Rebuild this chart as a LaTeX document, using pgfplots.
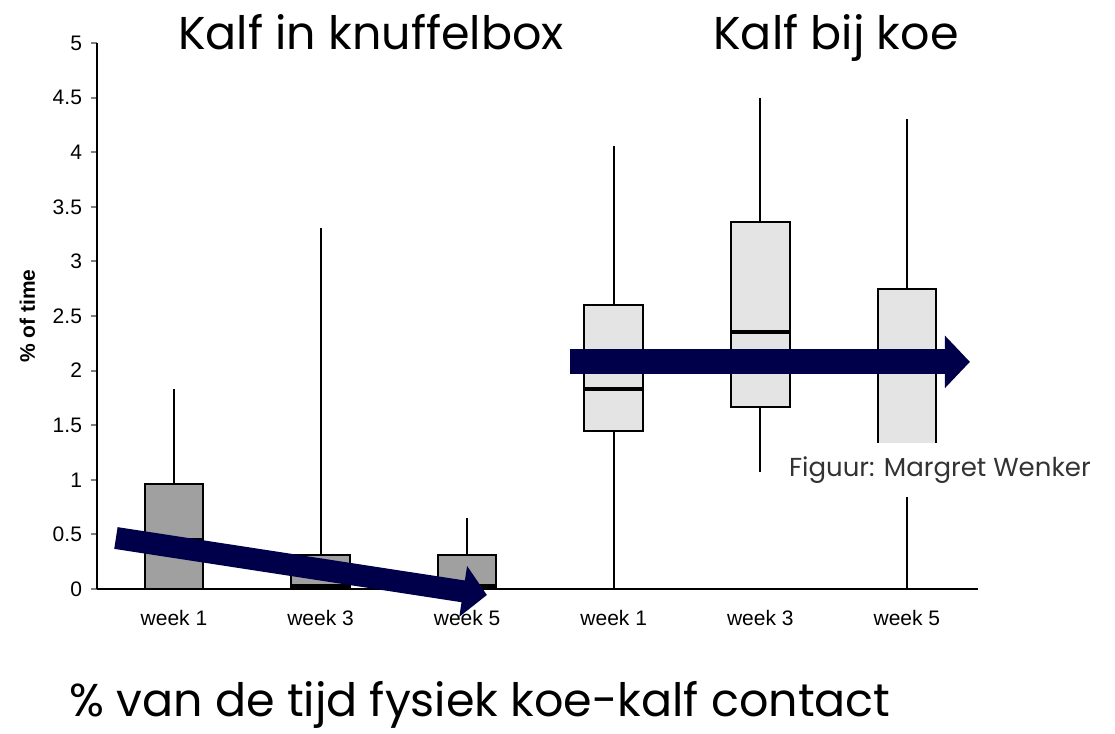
\documentclass[border=0pt]{standalone}
\usepackage{pgfplots}
\pgfplotsset{compat=1.18}
\usepgfplotslibrary{statistics}
\usetikzlibrary{arrows.meta}
\usepackage{fontspec}
\setmainfont{Liberation Sans}
\newfontfamily\gothic{Poppins}
\definecolor{darkbox}{HTML}{A0A0A0}
\definecolor{lightbox}{HTML}{E4E4E4}
\definecolor{navy}{HTML}{00004A}
\begin{document}
\begin{tikzpicture}
\useasboundingbox (-48.5pt,-72.5pt) rectangle (509pt,294.5pt);
\begin{axis}[
  scale only axis,
  width=440.5pt, height=273pt,
  xmin=-0.525, xmax=5.485,
  ymin=0, ymax=5,
  axis x line*=bottom, axis y line*=left,
  axis line style={line width=1pt},
  ytick={0,0.5,...,5},
  yticklabels={0,0.5,1,1.5,2,2.5,3,3.5,4,4.5,5},
  xtick={0,1,2,3,4,5},
  xticklabels={week 1,week 3,week 5,week 1,week 3,week 5},
  major tick length=3pt,
  ytick style={line width=1pt},
  xtick style={draw=none},
  tick align=outside,
  /pgf/number format/assume math mode=true,
  yticklabel style={font=\fontsize{10.5}{12}\selectfont, xshift=-1pt},
  xticklabel style={font=\fontsize{10.5}{12}\selectfont, yshift=-4pt},
  ylabel={\textbf{\% of time}},
  ylabel style={font=\fontsize{10.5}{12}\selectfont, yshift=2pt},
  clip=false,
  boxplot/draw direction=y,
  boxplot/box extend=0.4,
  boxplot/whisker extend=0,
  boxplot/every median/.style={line width=2pt},
]
\addplot[boxplot prepared={lower whisker=0, lower quartile=0, median=0.45, upper quartile=0.96, upper whisker=1.83, draw position=0}, draw=black, line width=1pt, fill=darkbox, mark=none] coordinates {};
\addplot[boxplot prepared={lower whisker=0, lower quartile=0, median=0.03, upper quartile=0.31, upper whisker=3.31, draw position=1}, draw=black, line width=1pt, fill=darkbox, mark=none] coordinates {};
\addplot[boxplot prepared={lower whisker=0, lower quartile=0, median=0.03, upper quartile=0.31, upper whisker=0.65, draw position=2}, draw=black, line width=1pt, fill=darkbox, mark=none] coordinates {};
\addplot[boxplot prepared={lower whisker=0, lower quartile=1.45, median=1.83, upper quartile=2.6, upper whisker=4.06, draw position=3}, draw=black, line width=1pt, fill=lightbox, mark=none] coordinates {};
\addplot[boxplot prepared={lower whisker=1.07, lower quartile=1.67, median=2.35, upper quartile=3.36, upper whisker=4.5, draw position=4}, draw=black, line width=1pt, fill=lightbox, mark=none] coordinates {};
\addplot[boxplot prepared={lower whisker=0, lower quartile=1.0, median=2.05, upper quartile=2.75, upper whisker=4.3, draw position=5}, draw=black, line width=1pt, fill=lightbox, mark=none] coordinates {};
% arrows
\draw[navy, line width=11pt, -{Triangle[length=12pt,width=25pt]}] (axis cs:-0.396,0.467) -- (axis cs:2.135,-0.055);
\draw[navy, line width=12.5pt, -{Triangle[length=12.5pt,width=25.5pt]}] (axis cs:2.70,2.08) -- (axis cs:5.43,2.08);
\node[fill=white, inner xsep=2pt, inner ysep=7pt, font=\gothic\fontsize{13}{15}\selectfont, text=black!80] at (axis cs:5.225,1.09) {Figuur: Margret Wenker};
\end{axis}
\node[anchor=base, font=\gothic\fontsize{23}{26}\selectfont] at (137pt,269.5pt) {Kalf in knuffelbox};
\node[anchor=base, font=\gothic\fontsize{23}{26}\selectfont] at (369.5pt,269.5pt) {Kalf bij koe};
\node[anchor=base, font=\gothic\fontsize{23}{26}\selectfont] at (191.5pt,-63.5pt) {\% van de tijd fysiek koe-kalf contact};
\end{tikzpicture}
\end{document}
